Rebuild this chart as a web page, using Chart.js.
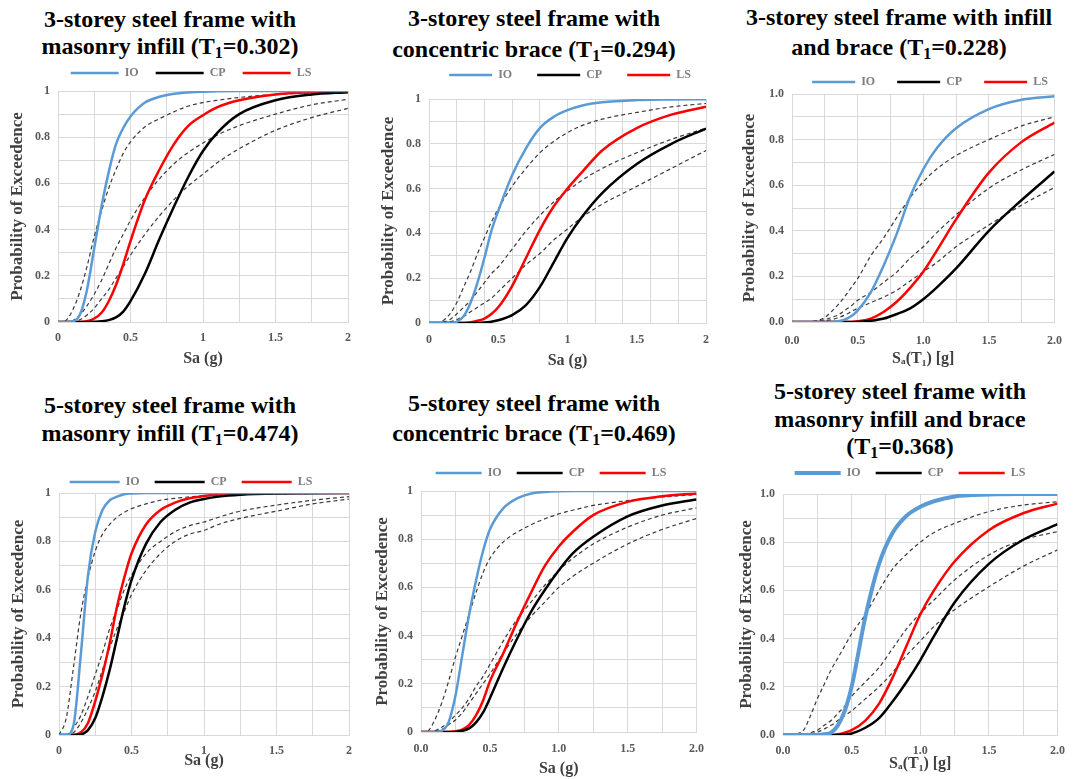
<!DOCTYPE html>
<html>
<head>
<meta charset="utf-8">
<title>Fragility curves</title>
<script src="https://cdn.jsdelivr.net/npm/chart.js@4.4.1/dist/chart.umd.min.js"></script>
<style>
	html, body { margin: 0; padding: 0; background: #fff; }
	body { position: relative; width: 1074px; height: 779px; overflow: hidden; font-family: 'Liberation Serif', 'Times New Roman', serif; }
	.title { position: absolute; width: 380px; text-align: center; font-weight: bold; font-size: 24px; color: #000; white-space: nowrap; }
	.title sub { font-size: 16px; line-height: 0; vertical-align: -4px; }
	canvas { position: absolute; }
</style>
</head>
<body>
<div class="title" style="left:-20px; top:6px; line-height:27px;">3-storey steel frame with<br>masonry infill (T<sub>1</sub>=0.302)</div>
<div class="title" style="left:344px; top:3px; line-height:31px;">3-storey steel frame with<br>concentric brace (T<sub>1</sub>=0.294)</div>
<div class="title" style="left:709px; top:2px; line-height:30px;">3-storey steel frame with infill<br>and brace (T<sub>1</sub>=0.228)</div>
<div class="title" style="left:-20px; top:391px; line-height:28px;">5-storey steel frame with<br>masonry infill (T<sub>1</sub>=0.474)</div>
<div class="title" style="left:344px; top:388px; line-height:30px;">5-storey steel frame with<br>concentric brace (T<sub>1</sub>=0.469)</div>
<div class="title" style="left:710px; top:378px; line-height:27.5px;">5-storey steel frame with<br>masonry infill and brace<br>(T<sub>1</sub>=0.368)</div>

<script>
// Sa (g) values where the curves were read
const saGrid = [0, 0.05, 0.1, 0.15, 0.2, 0.25, 0.3, 0.35, 0.4, 0.45, 0.5, 0.6, 0.7, 0.8, 0.9, 1.0, 1.1, 1.25, 1.5, 1.75, 2.0];

// 3-storey, masonry infill
const io1 = [0, 0, 0.002, 0.03, 0.14, 0.32, 0.50, 0.65, 0.77, 0.84, 0.89, 0.95, 0.975, 0.988, 0.994, 0.997, 0.999, 1, 1, 1, 1];
const io1Fit = [0, 0.005, 0.05, 0.13, 0.24, 0.37, 0.48, 0.58, 0.66, 0.73, 0.78, 0.845, 0.88, 0.91, 0.935, 0.95, 0.96, 0.972, 0.985, 0.992, 0.996];
const cp1 = [0, 0, 0, 0, 0, 0.001, 0.003, 0.008, 0.02, 0.045, 0.09, 0.21, 0.36, 0.50, 0.63, 0.74, 0.82, 0.90, 0.96, 0.985, 0.995];
const cp1Fit = [0, 0, 0, 0.01, 0.03, 0.06, 0.10, 0.14, 0.19, 0.24, 0.29, 0.38, 0.46, 0.53, 0.59, 0.64, 0.69, 0.75, 0.83, 0.885, 0.925];
const ls1 = [0, 0, 0, 0, 0.003, 0.015, 0.04, 0.09, 0.16, 0.25, 0.35, 0.53, 0.66, 0.77, 0.85, 0.895, 0.93, 0.96, 0.985, 0.995, 0.998];
const ls1Fit = [0, 0, 0.005, 0.03, 0.07, 0.12, 0.18, 0.25, 0.32, 0.38, 0.44, 0.54, 0.62, 0.685, 0.735, 0.775, 0.81, 0.85, 0.90, 0.94, 0.964];

// 3-storey, concentric brace
const io2 = [0, 0, 0, 0, 0.005, 0.03, 0.09, 0.18, 0.29, 0.41, 0.50, 0.66, 0.78, 0.87, 0.92, 0.95, 0.97, 0.985, 0.995, 0.998, 0.999];
const io2Fit = [0, 0, 0.01, 0.04, 0.09, 0.16, 0.23, 0.31, 0.38, 0.45, 0.51, 0.61, 0.69, 0.76, 0.81, 0.85, 0.88, 0.91, 0.94, 0.965, 0.98];
const cp2 = [0, 0, 0, 0, 0, 0, 0, 0, 0.002, 0.006, 0.012, 0.035, 0.08, 0.16, 0.27, 0.38, 0.47, 0.58, 0.71, 0.80, 0.868];
const cp2Fit = [0, 0, 0, 0.005, 0.015, 0.03, 0.05, 0.07, 0.09, 0.11, 0.14, 0.20, 0.26, 0.31, 0.37, 0.42, 0.47, 0.53, 0.61, 0.69, 0.77];
const ls2 = [0, 0, 0, 0, 0, 0, 0.003, 0.01, 0.02, 0.04, 0.07, 0.165, 0.29, 0.415, 0.52, 0.60, 0.67, 0.77, 0.87, 0.93, 0.965];
const ls2Fit = [0, 0, 0.003, 0.015, 0.04, 0.07, 0.10, 0.14, 0.18, 0.22, 0.25, 0.33, 0.41, 0.48, 0.54, 0.59, 0.635, 0.69, 0.76, 0.82, 0.87];

// 3-storey, infill and brace
const io3 = [0, 0, 0, 0, 0, 0, 0, 0.003, 0.01, 0.025, 0.05, 0.13, 0.25, 0.39, 0.55, 0.67, 0.76, 0.85, 0.934, 0.975, 0.99];
const io3Fit = [0, 0, 0, 0.002, 0.008, 0.02, 0.045, 0.075, 0.11, 0.15, 0.19, 0.29, 0.37, 0.46, 0.545, 0.615, 0.67, 0.73, 0.80, 0.86, 0.90];
const cp3 = [0, 0, 0, 0, 0, 0, 0, 0, 0, 0, 0, 0.005, 0.015, 0.035, 0.06, 0.10, 0.15, 0.235, 0.40, 0.535, 0.66];
const cp3Fit = [0, 0, 0, 0, 0.002, 0.005, 0.01, 0.018, 0.03, 0.045, 0.06, 0.085, 0.11, 0.14, 0.18, 0.22, 0.26, 0.33, 0.425, 0.513, 0.59];
const ls3 = [0, 0, 0, 0, 0, 0, 0, 0, 0, 0, 0.003, 0.015, 0.045, 0.09, 0.15, 0.22, 0.31, 0.45, 0.655, 0.79, 0.875];
const ls3Fit = [0, 0, 0, 0.002, 0.005, 0.01, 0.02, 0.03, 0.05, 0.07, 0.095, 0.13, 0.175, 0.22, 0.28, 0.33, 0.39, 0.47, 0.587, 0.668, 0.735];

// 5-storey, masonry infill
const io4 = [0, 0, 0.04, 0.33, 0.66, 0.84, 0.93, 0.97, 0.985, 0.995, 0.998, 1, 1, 1, 1, 1, 1, 1, 1, 1, 1];
const io4Fit = [0, 0.07, 0.28, 0.50, 0.65, 0.76, 0.83, 0.87, 0.90, 0.92, 0.935, 0.955, 0.97, 0.978, 0.984, 0.988, 0.99, 0.993, 0.996, 0.998, 0.999];
const cp4 = [0, 0, 0, 0.002, 0.02, 0.07, 0.16, 0.27, 0.40, 0.53, 0.64, 0.79, 0.88, 0.93, 0.96, 0.975, 0.985, 0.993, 0.998, 0.999, 1];
const cp4Fit = [0, 0, 0.01, 0.05, 0.11, 0.18, 0.27, 0.36, 0.44, 0.51, 0.58, 0.68, 0.75, 0.80, 0.83, 0.845, 0.87, 0.895, 0.925, 0.955, 0.975];
const ls4 = [0, 0, 0, 0.01, 0.05, 0.14, 0.25, 0.38, 0.53, 0.65, 0.75, 0.87, 0.93, 0.96, 0.978, 0.988, 0.994, 0.997, 0.999, 1, 1];
const ls4Fit = [0, 0, 0.03, 0.08, 0.16, 0.25, 0.34, 0.44, 0.52, 0.60, 0.66, 0.75, 0.80, 0.84, 0.865, 0.88, 0.90, 0.925, 0.95, 0.97, 0.985];

// 5-storey, concentric brace
const io5 = [0, 0, 0, 0.005, 0.04, 0.15, 0.32, 0.49, 0.63, 0.75, 0.84, 0.93, 0.97, 0.99, 0.996, 0.999, 1, 1, 1, 1, 1];
const io5Fit = [0, 0.005, 0.05, 0.12, 0.21, 0.31, 0.40, 0.49, 0.58, 0.66, 0.72, 0.79, 0.83, 0.86, 0.885, 0.905, 0.92, 0.94, 0.96, 0.975, 0.985];
const cp5 = [0, 0, 0, 0, 0, 0, 0.005, 0.015, 0.04, 0.08, 0.14, 0.27, 0.39, 0.50, 0.59, 0.67, 0.74, 0.81, 0.895, 0.94, 0.965];
const cp5Fit = [0, 0, 0.002, 0.01, 0.03, 0.05, 0.08, 0.12, 0.16, 0.20, 0.24, 0.33, 0.41, 0.48, 0.54, 0.60, 0.645, 0.70, 0.78, 0.84, 0.886];
const ls5 = [0, 0, 0, 0, 0, 0.003, 0.01, 0.03, 0.07, 0.13, 0.21, 0.33, 0.46, 0.58, 0.69, 0.77, 0.83, 0.90, 0.955, 0.978, 0.99];
const ls5Fit = [0, 0, 0.005, 0.02, 0.04, 0.07, 0.10, 0.14, 0.19, 0.23, 0.28, 0.38, 0.47, 0.54, 0.61, 0.67, 0.72, 0.78, 0.85, 0.90, 0.93];

// 5-storey, masonry infill and brace
const io6 = [0, 0, 0, 0, 0, 0, 0.003, 0.01, 0.04, 0.10, 0.20, 0.49, 0.71, 0.84, 0.91, 0.947, 0.97, 0.99, 0.998, 1, 1];
const io6Fit = [0, 0, 0.005, 0.02, 0.08, 0.15, 0.21, 0.27, 0.32, 0.37, 0.42, 0.50, 0.60, 0.69, 0.75, 0.80, 0.84, 0.878, 0.927, 0.954, 0.968];
const cp6 = [0, 0, 0, 0, 0, 0, 0, 0, 0, 0.002, 0.006, 0.03, 0.07, 0.14, 0.22, 0.31, 0.41, 0.55, 0.71, 0.81, 0.875];
const cp6Fit = [0, 0, 0, 0.002, 0.005, 0.012, 0.025, 0.04, 0.06, 0.08, 0.10, 0.15, 0.20, 0.26, 0.33, 0.39, 0.45, 0.52, 0.615, 0.70, 0.768];
const ls6 = [0, 0, 0, 0, 0, 0, 0, 0, 0.003, 0.01, 0.02, 0.06, 0.13, 0.24, 0.37, 0.50, 0.60, 0.72, 0.85, 0.92, 0.96];
const ls6Fit = [0, 0, 0, 0.003, 0.01, 0.02, 0.04, 0.06, 0.09, 0.12, 0.16, 0.22, 0.28, 0.36, 0.44, 0.505, 0.56, 0.643, 0.747, 0.81, 0.844];

const limitStates = ['IO', 'CP', 'LS'];
const FONT = "'Liberation Serif', 'Times New Roman', serif";
const GRID = '#d9d9d9';

// placement of each plot (pixels on the page)
const panels = [
	{ io: io1, ioFit: io1Fit, cp: cp1, cpFit: cp1Fit, ls: ls1, lsFit: ls1Fit, xLabel: 'Sa (g)', xDec: false, yDec: false,
		box: { l: 58, r: 348, t: 91, b: 322 }, leg: { y: 73, cx: 191, w: 48, pad: 17 }, xGrid: 0.25, xTick: 9, xTitle: 36, yTitle: 41, ioWidth: 2.5 },
	{ io: io2, ioFit: io2Fit, cp: cp2, cpFit: cp2Fit, ls: ls2, lsFit: ls2Fit, xLabel: 'Sa (g)', xDec: false, yDec: false,
		box: { l: 429, r: 707, t: 99, b: 323 }, leg: { y: 75, cx: 570, w: 43, pad: 25 }, xGrid: 0.2, xTick: 10, xTitle: 37, yTitle: 41, ioWidth: 2.5 },
	{ io: io3, ioFit: io3Fit, cp: cp3, cpFit: cp3Fit, ls: ls3, lsFit: ls3Fit, xLabel: 'S\u2090(T\u2081) [g]', xDec: true, yDec: true,
		box: { l: 792, r: 1062, t: 94, b: 322 }, leg: { y: 82, cx: 930, w: 43, pad: 22 }, xGrid: 0.25, xTick: 12, xTitle: 36, yTitle: 43, ioWidth: 2.5 },
	{ io: io4, ioFit: io4Fit, cp: cp4, cpFit: cp4Fit, ls: ls4, lsFit: ls4Fit, xLabel: 'Sa (g)', xDec: false, yDec: false,
		box: { l: 59, r: 349, t: 493, b: 735 }, leg: { y: 482, cx: 191, w: 50, pad: 15 }, xGrid: 0.25, xTick: 9, xTitle: 25, yTitle: 41, ioWidth: 2.5 },
	{ io: io5, ioFit: io5Fit, cp: cp5, cpFit: cp5Fit, ls: ls5, lsFit: ls5Fit, xLabel: 'Sa (g)', xDec: true, yDec: false,
		box: { l: 421, r: 702, t: 491, b: 732 }, leg: { y: 473, cx: 551, w: 46, pad: 15 }, xGrid: 0.25, xTick: 10, xTitle: 36, yTitle: 39, ioWidth: 2.5 },
	{ io: io6, ioFit: io6Fit, cp: cp6, cpFit: cp6Fit, ls: ls6, lsFit: ls6Fit, xLabel: 'S\u2090(T\u2081) [g]', xDec: true, yDec: true,
		box: { l: 783, r: 1062, t: 494, b: 735 }, leg: { y: 473, cx: 910, w: 46, pad: 15 }, xGrid: 0.25, xTick: 9, xTitle: 28, yTitle: 37, ioWidth: 4 },
];

function onStep(v, step) {
	const q = v / step;
	return Math.abs(q - Math.round(q)) < 1e-6;
}

function fmt(v, dec) {
	const r = Math.round(v * 10) / 10;
	return dec ? r.toFixed(1) : String(r);
}

// fixed legend height + move legend to its centre
function legendBox(height, centerX, canvasLeft) {
	return {
		id: 'legendBox',
		beforeInit(chart) {
			const fit = chart.legend.fit;
			chart.legend.fit = function () {
				fit.call(this);
				this.height = height;
			};
		},
		afterLayout(chart) {
			const lg = chart.legend;
			const dx = centerX - canvasLeft - (lg.left + lg.right) / 2;
			lg.left += dx;
			lg.right += dx;
		},
	};
}

function makeChart(p) {
	const yW = p.yTitle + 10;
	const xH = p.xTitle + 10;
	const left = p.box.l - yW;
	const top = p.leg.y - p.leg.pad - 6;
	const width = p.box.r - left + 12;
	const height = p.box.b - top + xH;

	const canvas = document.createElement('canvas');
	canvas.width = width;
	canvas.height = height;
	canvas.style.left = left + 'px';
	canvas.style.top = top + 'px';
	canvas.style.width = width + 'px';
	canvas.style.height = height + 'px';
	document.body.appendChild(canvas);

	const pts = (ys) => saGrid.map((x, i) => ({ x, y: ys[i] }));
	const solid = (label, ys, color, w) => ({
		label, data: pts(ys), borderColor: color, backgroundColor: color, borderWidth: w,
		pointRadius: 0, fill: false, cubicInterpolationMode: 'monotone',
	});
	const dashed = (label, ys) => ({
		label, data: pts(ys), borderColor: '#3a3a3a', backgroundColor: '#3a3a3a', borderWidth: 1.2,
		borderDash: [4, 3], pointRadius: 0, fill: false, cubicInterpolationMode: 'monotone',
	});

	const tickFont = { family: FONT, size: 12, weight: 'bold' };
	const titleFont = { family: FONT, size: 16, weight: 'bold' };

	new Chart(canvas, {
		type: 'line',
		data: {
			datasets: [
				solid(limitStates[0], p.io, '#5b9bd5', p.ioWidth),
				solid(limitStates[1], p.cp, '#000000', 2.5),
				solid(limitStates[2], p.ls, '#ff0000', 2.5),
				dashed('IO fit', p.ioFit),
				dashed('CP fit', p.cpFit),
				dashed('LS fit', p.lsFit),
			],
		},
		options: {
			responsive: false,
			animation: false,
			layout: { padding: { right: 12 } },
			plugins: {
				legend: {
					position: 'top',
					labels: {
						usePointStyle: true,
						pointStyle: 'line',
						pointStyleWidth: p.leg.w,
						padding: p.leg.pad,
						color: '#7f7f7f',
						font: tickFont,
						filter: (item) => limitStates.includes(item.text),
					},
				},
				tooltip: { enabled: false },
			},
			scales: {
				x: {
					type: 'linear',
					min: 0,
					max: 2,
					afterFit: (s) => { s.height = xH; },
					border: { color: GRID },
					grid: {
						drawTicks: false,
						color: (ctx) => (!ctx.tick || onStep(ctx.tick.value, p.xGrid) ? GRID : 'rgba(0,0,0,0)'),
					},
					ticks: {
						stepSize: p.xGrid === 0.2 ? 0.1 : 0.25,
						autoSkip: false,
						maxRotation: 0,
						padding: p.xTick,
						color: '#595959',
						font: tickFont,
						callback: (v) => (onStep(v, 0.5) ? fmt(v, p.xDec) : ''),
					},
					title: { display: true, text: p.xLabel, color: '#404040', font: titleFont, padding: 0 },
				},
				y: {
					min: 0,
					max: 1,
					afterFit: (s) => { s.width = yW; },
					border: { color: GRID },
					grid: { drawTicks: false, color: GRID },
					ticks: {
						stepSize: 0.1,
						autoSkip: false,
						padding: 8,
						color: '#595959',
						font: tickFont,
						callback: (v) => (onStep(v, 0.2) ? fmt(v, p.yDec) : ''),
					},
					title: {
						display: true,
						text: 'Probability of Exceedence',
						color: '#404040',
						font: { family: FONT, size: 17, weight: 'bold' },
						padding: 0,
					},
				},
			},
		},
		plugins: [legendBox(p.box.t - top, p.leg.cx, left)],
	});
}

panels.forEach(makeChart);
</script>
</body>
</html>
